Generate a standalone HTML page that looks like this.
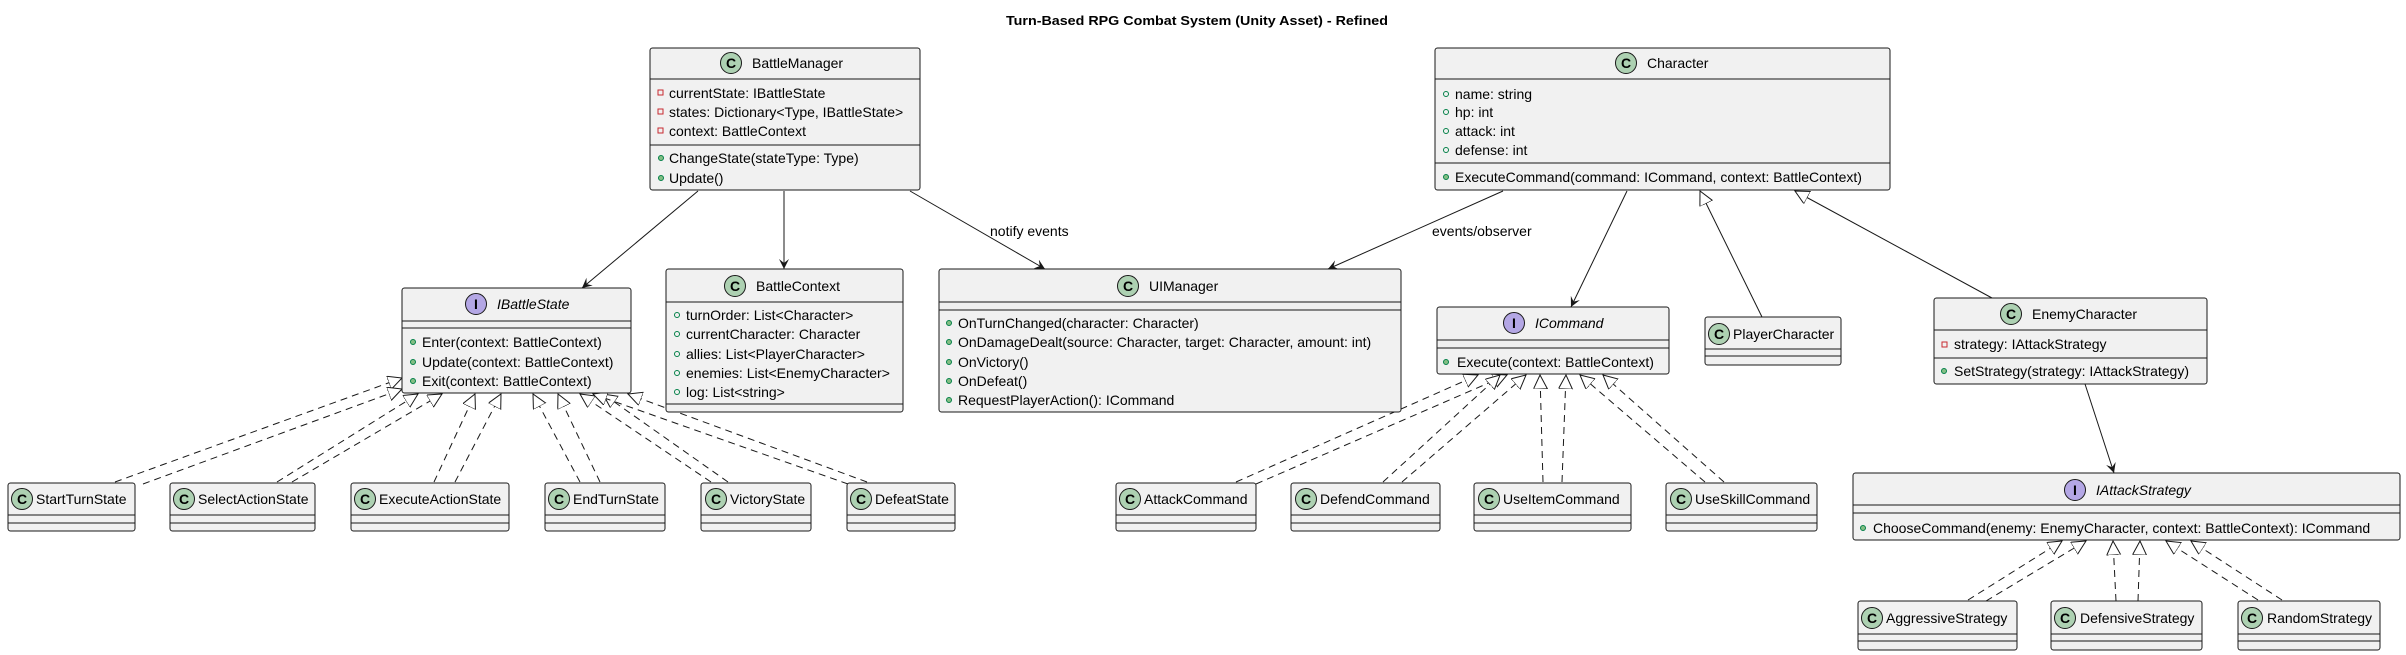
<!DOCTYPE html>
<html><head><meta charset="utf-8"><style>
html,body{margin:0;padding:0;background:#fff;}
svg{display:block;}
text{font-family:"Liberation Sans",sans-serif;font-size:14px;fill:#000;}
.b{fill:#F1F1F1;stroke:#181818;stroke-width:1;}
.l{stroke:#181818;stroke-width:1;}
.d{stroke:#181818;stroke-width:1;stroke-dasharray:7,5;fill:none;}
.s{stroke:#181818;stroke-width:1;fill:none;}
.ci{fill:#ADD1B2;stroke:#181818;stroke-width:1;}
.ii{fill:#B4A7E5;stroke:#181818;stroke-width:1;}
.lt{font-weight:bold;font-size:14px;}
.pv{fill:none;stroke:#C82930;stroke-width:1;}
.pb{fill:#84BE84;stroke:#038048;stroke-width:1;}
.po{fill:none;stroke:#038048;stroke-width:1;}
.it{font-style:italic;}
</style></head><body>
<svg width="2406" height="655" viewBox="0 0 2406 655" xmlns="http://www.w3.org/2000/svg">
<defs>
<marker id="ah" markerWidth="12" markerHeight="12" refX="10" refY="5" orient="auto" markerUnits="userSpaceOnUse">
<path d="M0,0 L10,5 L0,10 L4,5 Z" fill="#181818"/></marker>
<marker id="tri" markerWidth="16" markerHeight="16" refX="14" refY="7" orient="auto" markerUnits="userSpaceOnUse">
<path d="M0,0 L14,7 L0,14 Z" fill="#fff" stroke="#181818" stroke-width="1"/></marker>
</defs>

<text x="1197" y="25" text-anchor="middle" style="font-weight:bold;font-size:13px" textLength="382" lengthAdjust="spacingAndGlyphs">Turn-Based RPG Combat System (Unity Asset) - Refined</text>

<line x1="698" y1="191" x2="582" y2="288" class="l" marker-end="url(#ah)"/>
<line x1="784" y1="191" x2="784" y2="269" class="l" marker-end="url(#ah)"/>
<line x1="910" y1="191" x2="1045" y2="269" class="l" marker-end="url(#ah)"/>
<text x="990" y="236">notify events</text>
<line x1="1503" y1="191" x2="1328" y2="269" class="l" marker-end="url(#ah)"/>
<text x="1432" y="236">events/observer</text>
<line x1="1627" y1="191" x2="1571" y2="307" class="l" marker-end="url(#ah)"/>
<line x1="2085" y1="384" x2="2114" y2="473" class="l" marker-end="url(#ah)"/>
<line x1="1762" y1="317" x2="1700" y2="191" class="s" marker-end="url(#tri)"/>
<line x1="1992" y1="298" x2="1795" y2="191" class="s" marker-end="url(#tri)"/>

<g>
<line x1="115" y1="482" x2="402" y2="378" class="d" marker-end="url(#tri)"/>
<line x1="143" y1="484" x2="402" y2="389" class="d" marker-end="url(#tri)"/>
<line x1="277" y1="482" x2="418" y2="394" class="d" marker-end="url(#tri)"/>
<line x1="292" y1="482" x2="442" y2="394" class="d" marker-end="url(#tri)"/>
<line x1="434" y1="482" x2="475" y2="394" class="d" marker-end="url(#tri)"/>
<line x1="455" y1="482" x2="501" y2="394" class="d" marker-end="url(#tri)"/>
<line x1="580" y1="482" x2="533" y2="394" class="d" marker-end="url(#tri)"/>
<line x1="600" y1="482" x2="558" y2="394" class="d" marker-end="url(#tri)"/>
<line x1="711" y1="482" x2="580" y2="394" class="d" marker-end="url(#tri)"/>
<line x1="728" y1="482" x2="603" y2="394" class="d" marker-end="url(#tri)"/>
<line x1="848" y1="484" x2="593" y2="394" class="d" marker-end="url(#tri)"/>
<line x1="867" y1="482" x2="628" y2="394" class="d" marker-end="url(#tri)"/>
<line x1="1236" y1="482" x2="1478" y2="375" class="d" marker-end="url(#tri)"/>
<line x1="1256" y1="484" x2="1507" y2="375" class="d" marker-end="url(#tri)"/>
<line x1="1383" y1="482" x2="1500" y2="375" class="d" marker-end="url(#tri)"/>
<line x1="1402" y1="482" x2="1526" y2="375" class="d" marker-end="url(#tri)"/>
<line x1="1543" y1="482" x2="1540" y2="375" class="d" marker-end="url(#tri)"/>
<line x1="1562" y1="482" x2="1566" y2="375" class="d" marker-end="url(#tri)"/>
<line x1="1705" y1="482" x2="1580" y2="375" class="d" marker-end="url(#tri)"/>
<line x1="1724" y1="482" x2="1603" y2="375" class="d" marker-end="url(#tri)"/>
<line x1="1968" y1="600" x2="2062" y2="541" class="d" marker-end="url(#tri)"/>
<line x1="1986" y1="601" x2="2086" y2="541" class="d" marker-end="url(#tri)"/>
<line x1="2116" y1="601" x2="2113" y2="541" class="d" marker-end="url(#tri)"/>
<line x1="2138" y1="601" x2="2140" y2="541" class="d" marker-end="url(#tri)"/>
<line x1="2258" y1="600" x2="2166" y2="541" class="d" marker-end="url(#tri)"/>
<line x1="2282" y1="600" x2="2191" y2="541" class="d" marker-end="url(#tri)"/>
</g>

<rect x="650" y="48" width="270" height="142" rx="2.5" class="b"/>
<line x1="650" y1="79" x2="920" y2="79" class="l"/><line x1="650" y1="145" x2="920" y2="145" class="l"/>
<circle cx="731" cy="63" r="10.5" class="ci"/><text x="731" y="68" text-anchor="middle" class="lt">C</text>
<text x="752" y="68">BattleManager</text>
<rect x="658" y="90" width="5" height="5" class="pv"/><text x="669" y="98">currentState: IBattleState</text>
<rect x="658" y="109" width="5" height="5" class="pv"/><text x="669" y="117">states: Dictionary&lt;Type, IBattleState&gt;</text>
<rect x="658" y="128" width="5" height="5" class="pv"/><text x="669" y="136">context: BattleContext</text>
<circle cx="661" cy="158" r="2.5" class="pb"/><text x="669" y="163">ChangeState(stateType: Type)</text>
<circle cx="661" cy="178" r="2.5" class="pb"/><text x="669" y="183">Update()</text>

<rect x="402" y="288" width="229" height="105" rx="2.5" class="b"/>
<line x1="402" y1="321" x2="631" y2="321" class="l"/><line x1="402" y1="328" x2="631" y2="328" class="l"/>
<circle cx="476" cy="304" r="10.5" class="ii"/><text x="476" y="309" text-anchor="middle" class="lt">I</text>
<text x="497" y="309" class="it">IBattleState</text>
<circle cx="413" cy="342" r="2.5" class="pb"/><text x="422" y="347">Enter(context: BattleContext)</text>
<circle cx="413" cy="362" r="2.5" class="pb"/><text x="422" y="367">Update(context: BattleContext)</text>
<circle cx="413" cy="381" r="2.5" class="pb"/><text x="422" y="386">Exit(context: BattleContext)</text>

<rect x="666" y="269" width="237" height="143" rx="2.5" class="b"/>
<line x1="666" y1="302" x2="903" y2="302" class="l"/><line x1="666" y1="404" x2="903" y2="404" class="l"/>
<circle cx="735" cy="286" r="10.5" class="ci"/><text x="735" y="291" text-anchor="middle" class="lt">C</text>
<text x="756" y="291">BattleContext</text>
<circle cx="677" cy="315" r="2.5" class="po"/><text x="686" y="320">turnOrder: List&lt;Character&gt;</text>
<circle cx="677" cy="334" r="2.5" class="po"/><text x="686" y="339">currentCharacter: Character</text>
<circle cx="677" cy="354" r="2.5" class="po"/><text x="686" y="359">allies: List&lt;PlayerCharacter&gt;</text>
<circle cx="677" cy="373" r="2.5" class="po"/><text x="686" y="378">enemies: List&lt;EnemyCharacter&gt;</text>
<circle cx="677" cy="392" r="2.5" class="po"/><text x="686" y="397">log: List&lt;string&gt;</text>

<rect x="939" y="269" width="462" height="143" rx="2.5" class="b"/>
<line x1="939" y1="302" x2="1401" y2="302" class="l"/><line x1="939" y1="310" x2="1401" y2="310" class="l"/>
<circle cx="1128" cy="286" r="10.5" class="ci"/><text x="1128" y="291" text-anchor="middle" class="lt">C</text>
<text x="1149" y="291">UIManager</text>
<circle cx="949" cy="323" r="2.5" class="pb"/><text x="958" y="328">OnTurnChanged(character: Character)</text>
<circle cx="949" cy="342" r="2.5" class="pb"/><text x="958" y="347">OnDamageDealt(source: Character, target: Character, amount: int)</text>
<circle cx="949" cy="362" r="2.5" class="pb"/><text x="958" y="367">OnVictory()</text>
<circle cx="949" cy="381" r="2.5" class="pb"/><text x="958" y="386">OnDefeat()</text>
<circle cx="949" cy="400" r="2.5" class="pb"/><text x="958" y="405">RequestPlayerAction(): ICommand</text>

<rect x="1435" y="48" width="455" height="142" rx="2.5" class="b"/>
<line x1="1435" y1="79" x2="1890" y2="79" class="l"/><line x1="1435" y1="163" x2="1890" y2="163" class="l"/>
<circle cx="1626" cy="63" r="10.5" class="ci"/><text x="1626" y="68" text-anchor="middle" class="lt">C</text>
<text x="1647" y="68">Character</text>
<circle cx="1446" cy="94" r="2.5" class="po"/><text x="1455" y="99">name: string</text>
<circle cx="1446" cy="112" r="2.5" class="po"/><text x="1455" y="117">hp: int</text>
<circle cx="1446" cy="131" r="2.5" class="po"/><text x="1455" y="136">attack: int</text>
<circle cx="1446" cy="150" r="2.5" class="po"/><text x="1455" y="155">defense: int</text>
<circle cx="1446" cy="177" r="2.5" class="pb"/><text x="1455" y="182">ExecuteCommand(command: ICommand, context: BattleContext)</text>

<rect x="1437" y="307" width="232" height="67" rx="2.5" class="b"/>
<line x1="1437" y1="340" x2="1669" y2="340" class="l"/><line x1="1437" y1="348" x2="1669" y2="348" class="l"/>
<circle cx="1514" cy="323" r="10.5" class="ii"/><text x="1514" y="328" text-anchor="middle" class="lt">I</text>
<text x="1535" y="328" class="it">ICommand</text>
<circle cx="1446" cy="362" r="2.5" class="pb"/><text x="1457" y="367">Execute(context: BattleContext)</text>

<rect x="1705" y="317" width="136" height="48" rx="2.5" class="b"/>
<line x1="1705" y1="349" x2="1841" y2="349" class="l"/><line x1="1705" y1="356" x2="1841" y2="356" class="l"/>
<circle cx="1719" cy="334" r="10.5" class="ci"/><text x="1719" y="339" text-anchor="middle" class="lt">C</text>
<text x="1733" y="339">PlayerCharacter</text>

<rect x="1934" y="298" width="273" height="86" rx="2.5" class="b"/>
<line x1="1934" y1="330" x2="2207" y2="330" class="l"/><line x1="1934" y1="358" x2="2207" y2="358" class="l"/>
<circle cx="2011" cy="314" r="10.5" class="ci"/><text x="2011" y="319" text-anchor="middle" class="lt">C</text>
<text x="2032" y="319">EnemyCharacter</text>
<rect x="1942" y="342" width="5" height="5" class="pv"/><text x="1954" y="349">strategy: IAttackStrategy</text>
<circle cx="1944" cy="371" r="2.5" class="pb"/><text x="1954" y="376">SetStrategy(strategy: IAttackStrategy)</text>

<rect x="1853" y="473" width="547" height="67" rx="2.5" class="b"/>
<line x1="1853" y1="505" x2="2400" y2="505" class="l"/><line x1="1853" y1="513" x2="2400" y2="513" class="l"/>
<circle cx="2075" cy="490" r="10.5" class="ii"/><text x="2075" y="495" text-anchor="middle" class="lt">I</text>
<text x="2096" y="495" class="it">IAttackStrategy</text>
<circle cx="1863" cy="528" r="2.5" class="pb"/><text x="1873" y="533">ChooseCommand(enemy: EnemyCharacter, context: BattleContext): ICommand</text>

<g>
<rect x="8" y="483" width="127" height="48" rx="2.5" class="b"/><line x1="8" y1="515" x2="135" y2="515" class="l"/><line x1="8" y1="523" x2="135" y2="523" class="l"/>
<circle cx="22" cy="499" r="10.5" class="ci"/><text x="22" y="504" text-anchor="middle" class="lt">C</text><text x="36" y="504">StartTurnState</text>

<rect x="170" y="483" width="145" height="48" rx="2.5" class="b"/><line x1="170" y1="515" x2="315" y2="515" class="l"/><line x1="170" y1="523" x2="315" y2="523" class="l"/>
<circle cx="184" cy="499" r="10.5" class="ci"/><text x="184" y="504" text-anchor="middle" class="lt">C</text><text x="198" y="504">SelectActionState</text>

<rect x="351" y="483" width="158" height="48" rx="2.5" class="b"/><line x1="351" y1="515" x2="509" y2="515" class="l"/><line x1="351" y1="523" x2="509" y2="523" class="l"/>
<circle cx="365" cy="499" r="10.5" class="ci"/><text x="365" y="504" text-anchor="middle" class="lt">C</text><text x="379" y="504">ExecuteActionState</text>

<rect x="545" y="483" width="120" height="48" rx="2.5" class="b"/><line x1="545" y1="515" x2="665" y2="515" class="l"/><line x1="545" y1="523" x2="665" y2="523" class="l"/>
<circle cx="559" cy="499" r="10.5" class="ci"/><text x="559" y="504" text-anchor="middle" class="lt">C</text><text x="573" y="504">EndTurnState</text>

<rect x="701" y="483" width="110" height="48" rx="2.5" class="b"/><line x1="701" y1="515" x2="811" y2="515" class="l"/><line x1="701" y1="523" x2="811" y2="523" class="l"/>
<circle cx="716" cy="499" r="10.5" class="ci"/><text x="716" y="504" text-anchor="middle" class="lt">C</text><text x="730" y="504">VictoryState</text>

<rect x="847" y="483" width="108" height="48" rx="2.5" class="b"/><line x1="847" y1="515" x2="955" y2="515" class="l"/><line x1="847" y1="523" x2="955" y2="523" class="l"/>
<circle cx="861" cy="499" r="10.5" class="ci"/><text x="861" y="504" text-anchor="middle" class="lt">C</text><text x="875" y="504">DefeatState</text>

<rect x="1116" y="483" width="140" height="48" rx="2.5" class="b"/><line x1="1116" y1="515" x2="1256" y2="515" class="l"/><line x1="1116" y1="523" x2="1256" y2="523" class="l"/>
<circle cx="1130" cy="499" r="10.5" class="ci"/><text x="1130" y="504" text-anchor="middle" class="lt">C</text><text x="1144" y="504">AttackCommand</text>

<rect x="1291" y="483" width="149" height="48" rx="2.5" class="b"/><line x1="1291" y1="515" x2="1440" y2="515" class="l"/><line x1="1291" y1="523" x2="1440" y2="523" class="l"/>
<circle cx="1306" cy="499" r="10.5" class="ci"/><text x="1306" y="504" text-anchor="middle" class="lt">C</text><text x="1320" y="504">DefendCommand</text>

<rect x="1474" y="483" width="157" height="48" rx="2.5" class="b"/><line x1="1474" y1="515" x2="1631" y2="515" class="l"/><line x1="1474" y1="523" x2="1631" y2="523" class="l"/>
<circle cx="1489" cy="499" r="10.5" class="ci"/><text x="1489" y="504" text-anchor="middle" class="lt">C</text><text x="1503" y="504">UseItemCommand</text>

<rect x="1666" y="483" width="151" height="48" rx="2.5" class="b"/><line x1="1666" y1="515" x2="1817" y2="515" class="l"/><line x1="1666" y1="523" x2="1817" y2="523" class="l"/>
<circle cx="1681" cy="499" r="10.5" class="ci"/><text x="1681" y="504" text-anchor="middle" class="lt">C</text><text x="1695" y="504">UseSkillCommand</text>

<rect x="1858" y="601" width="159" height="49" rx="2.5" class="b"/><line x1="1858" y1="634" x2="2017" y2="634" class="l"/><line x1="1858" y1="641" x2="2017" y2="641" class="l"/>
<circle cx="1872" cy="618" r="10.5" class="ci"/><text x="1872" y="623" text-anchor="middle" class="lt">C</text><text x="1886" y="623">AggressiveStrategy</text>

<rect x="2051" y="601" width="151" height="49" rx="2.5" class="b"/><line x1="2051" y1="634" x2="2202" y2="634" class="l"/><line x1="2051" y1="641" x2="2202" y2="641" class="l"/>
<circle cx="2065" cy="618" r="10.5" class="ci"/><text x="2065" y="623" text-anchor="middle" class="lt">C</text><text x="2080" y="623">DefensiveStrategy</text>

<rect x="2238" y="601" width="142" height="49" rx="2.5" class="b"/><line x1="2238" y1="634" x2="2380" y2="634" class="l"/><line x1="2238" y1="641" x2="2380" y2="641" class="l"/>
<circle cx="2252" cy="618" r="10.5" class="ci"/><text x="2252" y="623" text-anchor="middle" class="lt">C</text><text x="2267" y="623">RandomStrategy</text>
</g>
</svg>
</body></html>
